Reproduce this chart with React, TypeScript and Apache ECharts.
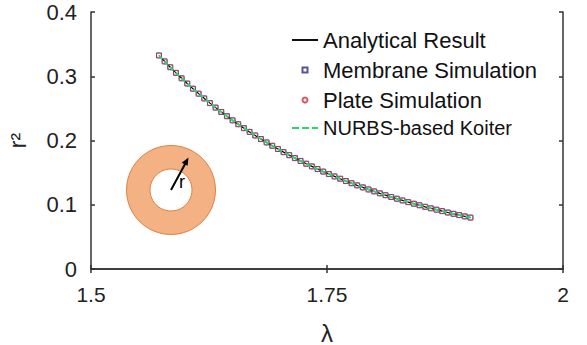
import React, { useEffect, useRef } from "react";
import * as echarts from "echarts";

const lambdaValues = [
  1.572, 1.578, 1.584, 1.59, 1.596, 1.602, 1.608, 1.614, 1.62, 1.626,
  1.632, 1.638, 1.644, 1.65, 1.656, 1.662, 1.668, 1.674, 1.68, 1.686,
  1.692, 1.698, 1.704, 1.71, 1.716, 1.722, 1.728, 1.734, 1.74, 1.746,
  1.752, 1.758, 1.764, 1.77, 1.776, 1.782, 1.788, 1.794, 1.8, 1.806,
  1.812, 1.818, 1.824, 1.83, 1.836, 1.842, 1.848, 1.854, 1.86, 1.866,
  1.872, 1.878, 1.884, 1.89, 1.896, 1.902,
];
const r2Values = [
  0.3324, 0.3231, 0.314, 0.3053, 0.2968, 0.2886, 0.2806, 0.2729, 0.2655, 0.2582,
  0.2512, 0.2444, 0.2378, 0.2314, 0.2253, 0.2192, 0.2134, 0.2078, 0.2023, 0.197,
  0.1918, 0.1868, 0.1819, 0.1772, 0.1726, 0.1682, 0.1639, 0.1597, 0.1556, 0.1516,
  0.1478, 0.1441, 0.1405, 0.1369, 0.1335, 0.1302, 0.127, 0.1238, 0.1208, 0.1178,
  0.1149, 0.1121, 0.1094, 0.1067, 0.1041, 0.1016, 0.0992, 0.0968, 0.0945, 0.0923,
  0.0901, 0.0879, 0.0859, 0.0839, 0.0819, 0.08,
];
const xTicks = [1.5, 1.75, 2];
const yTicks = [0, 0.1, 0.2, 0.3, 0.4];
const seriesNames = [
  "Analytical Result",
  "Membrane Simulation",
  "Plate Simulation",
  "NURBS-based Koiter",
];

const FONT = "'Liberation Sans', Arial, sans-serif";

export default function App() {
  const ref = useRef<HTMLDivElement>(null);
  useEffect(() => {
    if (!ref.current) return;
    const chart = echarts.init(ref.current, undefined, { renderer: "svg" });
    const pts = lambdaValues.map((x, i) => [x, r2Values[i]]);
    const axisLine = { show: true, lineStyle: { color: "#333", width: 1.5 } };
    const tick = { show: true, inside: true, length: 4, lineStyle: { color: "#333", width: 1.5 } };
    chart.setOption({
      animation: false,
      backgroundColor: "#fff",
      textStyle: { fontFamily: FONT },
      grid: {
        left: 91,
        right: 24,
        top: 12,
        bottom: 76,
        containLabel: false,
        outerBoundsMode: "none",
      },
      legend: {
        orient: "vertical",
        left: 287,
        top: 23,
        itemWidth: 26,
        itemHeight: 5,
        itemGap: 6,
        textStyle: { fontSize: 22, color: "#111", fontFamily: FONT, lineHeight: 24 },
        data: [
          { name: seriesNames[0], icon: "path://M4,0h18v1.3h-18z" },
          { name: seriesNames[1], icon: "path://M0,0h10v10h-10z" },
          { name: seriesNames[2], icon: "circle" },
          {
            name: seriesNames[3],
            icon: "path://M0,0h7v2h-7zM10,0h7v2h-7zM20,0h6v2h-6z",
            textStyle: { fontSize: 20, lineHeight: 20 },
          },
        ],
      },
      xAxis: [
        {
          type: "value",
          min: xTicks[0],
          max: xTicks[xTicks.length - 1],
          interval: 0.25,
          name: "λ",
          nameLocation: "middle",
          nameGap: 52,
          nameTextStyle: { fontSize: 24, color: "#222", fontFamily: FONT },
          axisLine,
          axisTick: tick,
          axisLabel: { fontSize: 21, color: "#222", margin: 15, fontFamily: FONT },
          splitLine: { show: false },
        },
        {
          type: "value",
          position: "top",
          min: xTicks[0],
          max: xTicks[xTicks.length - 1],
          interval: 0.25,
          axisLine,
          axisTick: tick,
          axisLabel: { show: false },
          splitLine: { show: false },
        },
      ],
      yAxis: [
        {
          type: "value",
          min: yTicks[0],
          max: yTicks[yTicks.length - 1],
          interval: 0.1,
          name: "r²",
          nameLocation: "middle",
          nameRotate: 90,
          nameGap: 62,
          nameTextStyle: { fontSize: 23, color: "#222", fontFamily: FONT },
          axisLine,
          axisTick: tick,
          axisLabel: { fontSize: 22, color: "#222", margin: 14, fontFamily: FONT },
          splitLine: { show: false },
        },
        {
          type: "value",
          position: "right",
          min: yTicks[0],
          max: yTicks[yTicks.length - 1],
          interval: 0.1,
          axisLine,
          axisTick: tick,
          axisLabel: { show: false },
          splitLine: { show: false },
        },
      ],
      series: [
        {
          name: seriesNames[0],
          type: "line",
          data: pts,
          smooth: true,
          symbol: "none",
          lineStyle: { color: "#000", width: 1.2 },
          itemStyle: { color: "#000" },
          z: 1,
        },
        {
          name: seriesNames[1],
          type: "scatter",
          data: pts,
          symbol: "rect",
          symbolSize: 5,
          itemStyle: { color: "rgba(255,255,255,0)", borderColor: "#2a2a80", borderWidth: 1 },
          z: 2,
        },
        {
          name: seriesNames[2],
          type: "scatter",
          data: pts,
          symbol: "circle",
          symbolSize: 5,
          itemStyle: { color: "rgba(255,255,255,0)", borderColor: "#c8303a", borderWidth: 1 },
          z: 3,
        },
        {
          name: seriesNames[3],
          type: "line",
          data: pts,
          smooth: true,
          symbol: "none",
          lineStyle: { color: "#2dd46a", width: 2, type: [5, 3] },
          itemStyle: { color: "#2dd46a" },
          z: 4,
        },
      ],
      graphic: [
        {
          type: "ring",
          shape: { cx: 171, cy: 190, r: 44.5, r0: 21 },
          style: { fill: "#f4b183", stroke: "#e0803f", lineWidth: 1 },
          z: 10,
        },
        {
          type: "line",
          shape: { x1: 171, y1: 190, x2: 185.6, y2: 163 },
          style: { stroke: "#000", lineWidth: 2 },
          z: 11,
        },
        {
          type: "polygon",
          shape: { points: [[188.5, 157.5], [187.6, 165.8], [181.8, 162.7]] },
          style: { fill: "#000" },
          z: 11,
        },
        {
          type: "text",
          x: 179,
          y: 173,
          style: { text: "r", fontSize: 18, fill: "#000", fontFamily: FONT },
          z: 11,
        },
      ],
    });
    return () => chart.dispose();
  }, []);
  return (
    <div
      ref={ref}
      style={{ position: "absolute", left: 0, top: 0, width: 587, height: 345 }}
    />
  );
}
